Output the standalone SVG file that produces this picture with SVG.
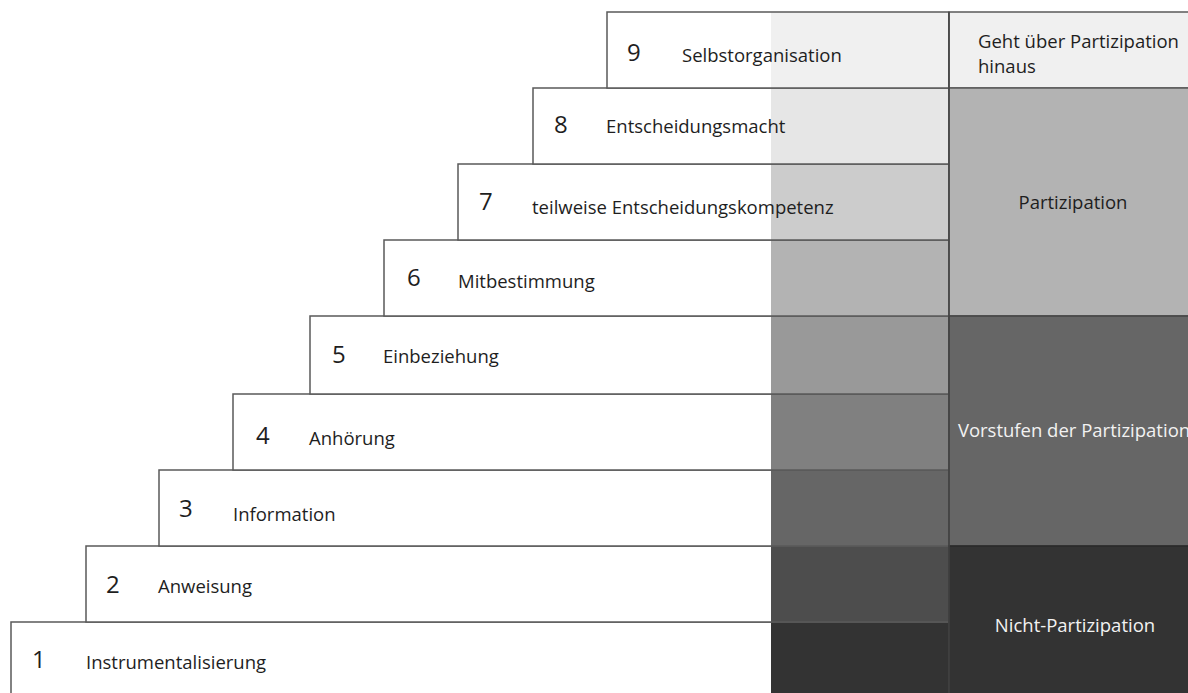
<svg xmlns="http://www.w3.org/2000/svg" width="1188" height="693" viewBox="0 0 1188 693">
<style>
  .white { fill: #ffffff; }
  .outline { fill: none; stroke: #5a5a5a; stroke-width: 1.5; }
  .num { font-family: "Open Sans", "Noto Sans", sans-serif; font-size: 24px; fill: #1e1e1e; }
  .lbl { font-family: "Open Sans", "Noto Sans", sans-serif; font-size: 18.5px; fill: #1e1e1e; }
  .cat { font-family: "Open Sans", "Noto Sans", sans-serif; font-size: 18.5px; text-anchor: middle; }
  .dark { fill: #1e1e1e; }
  .light { fill: #f2f2f2; }
  .sep { stroke: #444444; stroke-width: 1.5; fill: none; }
</style>
<rect x="0" y="0" width="1188" height="693" fill="#ffffff"/>

<g id="step1">
  <rect class="white" x="11" y="622" width="938" height="72"/>
  <rect x="771" y="622" width="178" height="72" fill="#333333"/>
  <rect class="outline" x="11" y="622" width="938" height="72"/>
  <text class="num" x="32" y="668">1</text>
  <text class="lbl" x="86" y="669">Instrumentalisierung</text>
</g>
<g id="step2">
  <rect class="white" x="86" y="546" width="863" height="76"/>
  <rect x="771" y="546" width="178" height="76" fill="#4d4d4d"/>
  <rect class="outline" x="86" y="546" width="863" height="76"/>
  <text class="num" x="106" y="593">2</text>
  <text class="lbl" x="158" y="593">Anweisung</text>
</g>
<g id="step3">
  <rect class="white" x="159" y="470" width="790" height="76"/>
  <rect x="771" y="470" width="178" height="76" fill="#666666"/>
  <rect class="outline" x="159" y="470" width="790" height="76"/>
  <text class="num" x="179" y="517">3</text>
  <text class="lbl" x="233" y="521">Information</text>
</g>
<g id="step4">
  <rect class="white" x="233" y="394" width="716" height="76"/>
  <rect x="771" y="394" width="178" height="76" fill="#808080"/>
  <rect class="outline" x="233" y="394" width="716" height="76"/>
  <text class="num" x="256" y="444">4</text>
  <text class="lbl" x="309" y="445">Anhörung</text>
</g>
<g id="step5">
  <rect class="white" x="310" y="316" width="639" height="78"/>
  <rect x="771" y="316" width="178" height="78" fill="#999999"/>
  <rect class="outline" x="310" y="316" width="639" height="78"/>
  <text class="num" x="332" y="363">5</text>
  <text class="lbl" x="383" y="363">Einbeziehung</text>
</g>
<g id="step6">
  <rect class="white" x="384" y="240" width="565" height="76"/>
  <rect x="771" y="240" width="178" height="76" fill="#b3b3b3"/>
  <rect class="outline" x="384" y="240" width="565" height="76"/>
  <text class="num" x="407" y="286">6</text>
  <text class="lbl" x="458" y="288">Mitbestimmung</text>
</g>
<g id="step7">
  <rect class="white" x="458" y="164" width="491" height="76"/>
  <rect x="771" y="164" width="178" height="76" fill="#cccccc"/>
  <rect class="outline" x="458" y="164" width="491" height="76"/>
  <text class="num" x="479" y="210">7</text>
  <text class="lbl" x="532" y="214">teilweise Entscheidungskompetenz</text>
</g>
<g id="step8">
  <rect class="white" x="533" y="88" width="416" height="76"/>
  <rect x="771" y="88" width="178" height="76" fill="#e6e6e6"/>
  <rect class="outline" x="533" y="88" width="416" height="76"/>
  <text class="num" x="554" y="133">8</text>
  <text class="lbl" x="606" y="133">Entscheidungsmacht</text>
</g>
<g id="step9">
  <rect class="white" x="607" y="12" width="342" height="76"/>
  <rect x="771" y="12" width="178" height="76" fill="#f0f0f0"/>
  <rect class="outline" x="607" y="12" width="342" height="76"/>
  <text class="num" x="627" y="61">9</text>
  <text class="lbl" x="682" y="62">Selbstorganisation</text>
</g>

<g id="cat-beyond">
  <rect x="949" y="12" width="240" height="76" fill="#f0f0f0" stroke="#5a5a5a" stroke-width="1.5"/>
  <text class="lbl" x="978" y="48">Geht über Partizipation</text>
  <text class="lbl" x="978" y="73">hinaus</text>
</g>
<g id="cat-participation">
  <rect x="949" y="88" width="240" height="228" fill="#b3b3b3" stroke="#5a5a5a" stroke-width="1.5"/>
  <text class="cat dark" x="1073" y="209">Partizipation</text>
</g>
<g id="cat-preliminary">
  <rect x="949" y="316" width="240" height="230" fill="#666666" stroke="#444444" stroke-width="1.5"/>
  <text class="cat light" x="1074" y="437">Vorstufen der Partizipation</text>
</g>
<g id="cat-non">
  <rect x="949" y="546" width="240" height="148" fill="#333333" stroke="#2a2a2a" stroke-width="1.5"/>
  <text class="cat light" x="1075" y="632">Nicht-Partizipation</text>
</g>

<g id="connectors">
  <line class="sep" x1="949" y1="12" x2="949" y2="693"/>
</g>
</svg>
